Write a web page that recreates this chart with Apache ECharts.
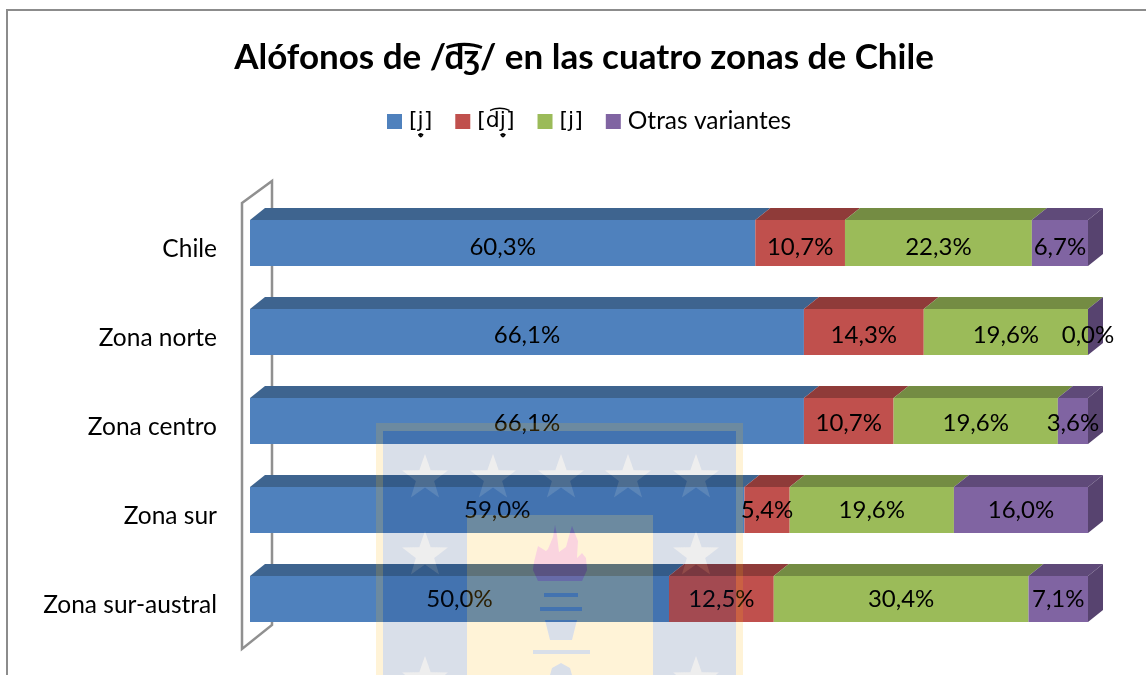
<!DOCTYPE html>
<html>
<head>
<meta charset="utf-8">
<style>
  html, body { margin: 0; padding: 0; background: #fff; }
  #main { width: 1146px; height: 675px; }
</style>
<script src="https://cdn.jsdelivr.net/npm/echarts@6/dist/echarts.min.js"></script>
</head>
<body>
<div id="main"></div>
<script>
const categories = ['Chile', 'Zona norte', 'Zona centro', 'Zona sur', 'Zona sur-austral']
const seriesNames = ['[j\u0325\u031E]', '[d\u0361j\u0325\u031E]', '[j]', 'Otras variantes']
const aproximante = [60.3, 66.1, 66.1, 59.0, 50.0]
const africada = [10.7, 14.3, 10.7, 5.4, 12.5]
const fricativa = [22.3, 19.6, 19.6, 19.6, 30.4]
const otras = [6.7, 0.0, 3.6, 16.0, 7.1]
const values = [aproximante, africada, fricativa, otras]

const frontColors = ['#4f81bd', '#c0504d', '#9bbb59', '#8064a2']
const topColors = ['#3e648f', '#8f3b39', '#748c43', '#5f4a79']
const sideColor = '#57436f'
const fontName = 'Lato, "Noto Sans", "DejaVu Sans", sans-serif'
const barHeight = 46
const depthX = 15
const depthY = 12
const labelShift = [4, 3, 2, 0, 0]

// cara superior de cada tramo y cara lateral derecha
function renderFaces(params, api) {
  const row = api.value(1)
  const children = []
  let sum = 0
  values.forEach(function (list, s) {
    const a = api.coord([sum, row])
    sum += list[row]
    const b = api.coord([sum, row])
    const top = a[1] - barHeight / 2
    children.push({
      type: 'polygon',
      shape: { points: [[a[0], top], [a[0] + depthX, top - depthY], [b[0] + depthX, top - depthY], [b[0], top]] },
      style: { fill: topColors[s] }
    })
  })
  const end = api.coord([sum, row])
  const top = end[1] - barHeight / 2
  const bottom = end[1] + barHeight / 2
  children.push({
    type: 'polygon',
    shape: { points: [[end[0], top], [end[0] + depthX, top - depthY], [end[0] + depthX, bottom - depthY], [end[0], bottom]] },
    style: { fill: sideColor }
  })
  return { type: 'group', children: children }
}

// pared del eje vertical
function renderWall(params) {
  const c = params.coordSys
  return {
    type: 'polygon',
    shape: {
      points: [
        [c.x - 8, c.y + 4.5],
        [c.x + 22, c.y - 17.5],
        [c.x + 22, c.y + 426.5],
        [c.x - 8, c.y + 450.5]
      ]
    },
    style: { fill: 'none', stroke: '#909090', lineWidth: 2.5 }
  }
}

function rectPath(x0, y0, x1, y1) {
  return 'M' + x0 + ' ' + y0 + 'L' + x1 + ' ' + y0 + 'L' + x1 + ' ' + y1 + 'L' + x0 + ' ' + y1 + 'Z'
}
function holePath(x0, y0, x1, y1) {
  return 'M' + x0 + ' ' + y0 + 'L' + x0 + ' ' + y1 + 'L' + x1 + ' ' + y1 + 'L' + x1 + ' ' + y0 + 'Z'
}
function starPath(cx, cy, r) {
  let d = ''
  for (let i = 0; i < 10; i++) {
    const ang = -Math.PI / 2 - i * Math.PI / 5
    const rad = i % 2 ? r * 0.4 : r
    d += (i ? 'L' : 'M') + (cx + rad * Math.cos(ang)).toFixed(1) + ' ' + (cy + rad * Math.sin(ang)).toFixed(1)
  }
  return d + 'Z'
}

// marca de agua del logo
const starSpots = [[425, 478], [493, 478], [561, 478], [628, 478], [696, 478], [425, 555], [696, 555], [425, 680], [696, 680]]
const stars = starSpots.map(function (p) { return starPath(p[0], p[1], 24) }).join('')
const flame = 'M555 525L553 537L548 549L546 551L538 546L534 562L533 570L538 581L582 581L587 570L586 558L582 553L577 558L578 541L572 526L569 536L566 547L559 552L557 535Z'
const torch = rectPath(544, 593, 578, 597) + rectPath(540, 607, 582, 611) +
  'M545 620L577 620L572 640L550 640Z' + rectPath(533, 650, 590, 654) +
  'M550 675L552 668L561 663L570 668L572 675Z'
const torchHole = holePath(544, 593, 578, 597) + holePath(540, 607, 582, 611) +
  'M545 620L550 640L572 640L577 620Z' + holePath(533, 650, 590, 654) +
  'M550 675L572 675L570 668L561 663L552 668Z'

const logoParts = [
  [rectPath(376, 423, 743, 675) + holePath(383, 431, 736, 675) + rectPath(467, 515, 653, 675) + flame + torchHole, 'rgba(253,185,19,0.17)'],
  [rectPath(383, 431, 736, 675) + holePath(467, 515, 653, 675) + stars, 'rgba(0,42,107,0.15)'],
  [stars, 'rgba(155,155,155,0.17)'],
  [torch, 'rgba(0,42,107,0.15)'],
  [flame, 'rgba(224,0,64,0.17)']
]

function renderLogo() {
  return {
    type: 'group',
    children: logoParts.map(function (part) {
      return { type: 'path', shape: { pathData: part[0] }, style: { fill: part[1] } }
    })
  }
}

const frame = {
  type: 'polyline',
  silent: true,
  shape: { points: [[7, 675], [7, 10], [1146, 10]] },
  style: { fill: 'none', stroke: '#8c8c8c', lineWidth: 2 }
}

const myChart = echarts.init(document.getElementById('main'))
const option = {
  backgroundColor: '#fff',
  animation: false,
  title: {
    text: 'Alófonos de /d\u0361\u0292/ en las cuatro zonas de Chile',
    left: 579,
    textAlign: 'center',
    top: 35,
    textStyle: { color: '#000', fontFamily: fontName, fontWeight: 'bold', fontSize: 35 }
  },
  legend: {
    data: seriesNames,
    left: 382,
    top: 104,
    icon: 'rect',
    itemWidth: 15,
    itemHeight: 15,
    itemGap: 23,
    formatter: function (name) {
      return name === 'Otras variantes' ? '{t|' + name + '}' : '{f|' + name + '}'
    },
    textStyle: {
      color: '#000',
      fontFamily: fontName,
      fontSize: 24.5,
      rich: {
        t: { fontFamily: fontName, fontSize: 24.5, padding: [0, 0, 0, 2] },
        f: { fontFamily: '"DejaVu Sans"', fontSize: 22, padding: [0, 0, 0, 2] }
      }
    }
  },
  grid: { left: 250, right: 58, top: 198.5, height: 445 },
  xAxis: { type: 'value', min: 0, max: 100, show: false },
  yAxis: {
    type: 'category',
    inverse: true,
    data: categories,
    axisLine: { show: false },
    axisTick: { show: false },
    axisLabel: {
      color: '#000',
      margin: 33,
      formatter: '{c|{value}}',
      rich: {
        c: { color: '#000', fontFamily: fontName, fontSize: 24.5, padding: [13, 0, 0, 0] }
      }
    }
  },
  graphic: { elements: [frame] },
  series: [
    {
      name: 'pared',
      type: 'custom',
      z: 1,
      silent: true,
      clip: false,
      renderItem: renderWall,
      data: [[0, 0]],
      encode: { x: 0, y: 1 }
    },
    {
      name: 'caras',
      type: 'custom',
      z: 2,
      silent: true,
      clip: false,
      renderItem: renderFaces,
      data: categories.map(function (c, i) { return [100, i] }),
      encode: { x: 0, y: 1 }
    },
    {
      name: 'logo',
      type: 'custom',
      z: 20,
      silent: true,
      clip: false,
      renderItem: renderLogo,
      data: [[0, 0]],
      encode: { x: 0, y: 1 }
    }
  ].concat(seriesNames.map(function (name, s) {
    return {
      name: name,
      type: 'bar',
      stack: 'total',
      z: 3,
      barWidth: barHeight,
      data: values[s].map(function (v, i) {
        return { value: v, label: { offset: [0, labelShift[i]] } }
      }),
      itemStyle: { color: frontColors[s] },
      label: {
        show: true,
        position: 'inside',
        color: '#000',
        fontFamily: fontName,
        fontSize: 24,
        formatter: function (p) { return p.value.toFixed(1).replace('.', ',') + '%' }
      }
    }
  }))
}
myChart.setOption(option)
</script>
</body>
</html>
